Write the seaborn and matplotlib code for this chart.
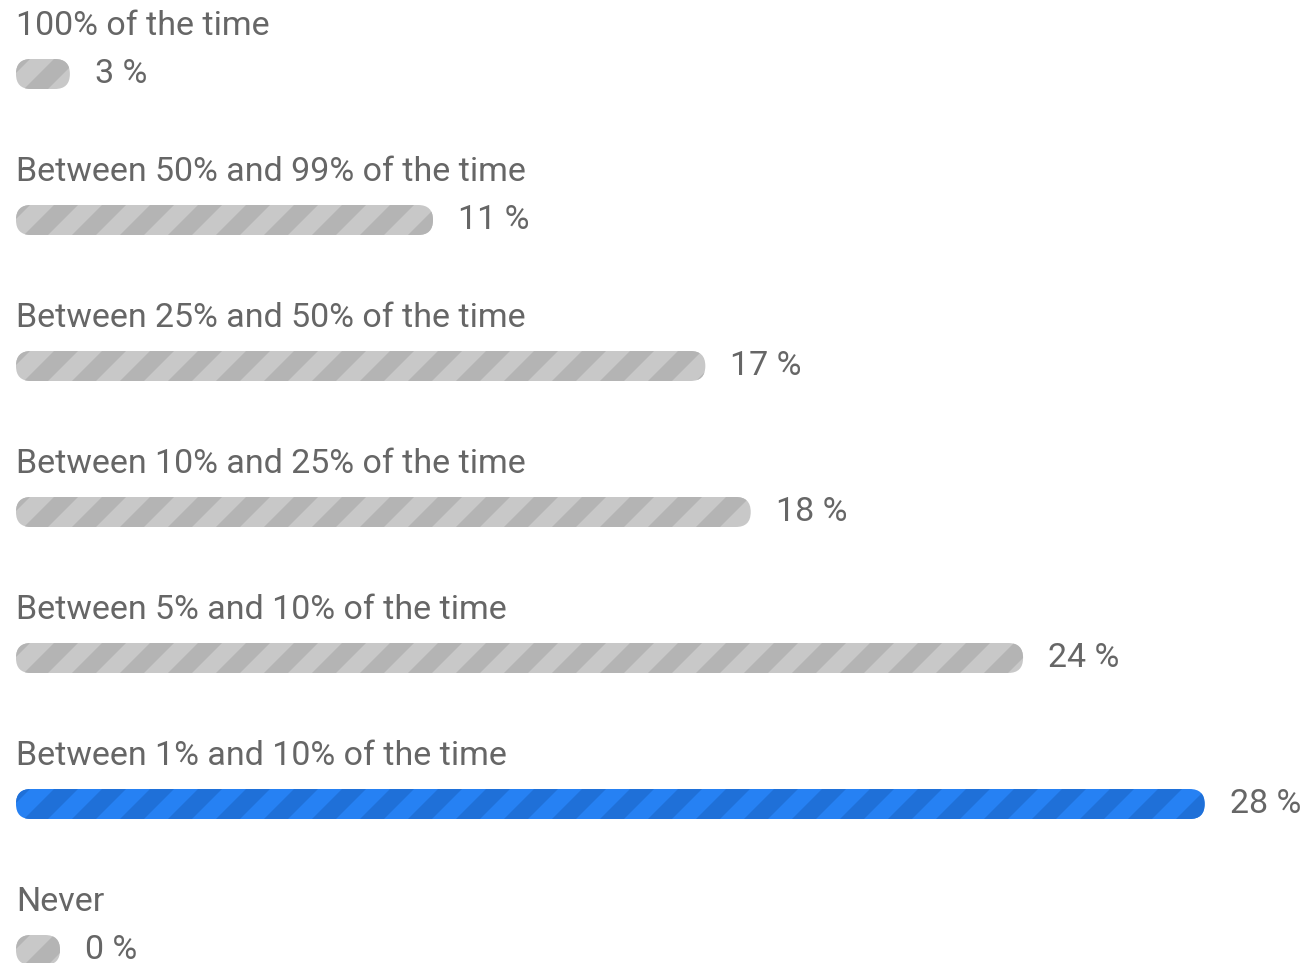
import matplotlib
matplotlib.use("Agg")
import matplotlib.pyplot as plt
from matplotlib.patches import FancyBboxPatch, Polygon
from matplotlib.transforms import IdentityTransform
import pandas as pd
import seaborn as sns

# survey answers, top to bottom
answers = [
    "100% of the time",
    "Between 50% and 99% of the time",
    "Between 25% and 50% of the time",
    "Between 10% and 25% of the time",
    "Between 5% and 10% of the time",
    "Between 1% and 10% of the time",
    "Never",
]
percent = [3, 11, 17, 18, 24, 28, 0]
value_labels = ["3 %", "11 %", "17 %", "18 %", "24 %", "28 %", "0 %"]
highlight = "Between 1% and 10% of the time"

df = pd.DataFrame({"answer": answers, "percent": percent})

W, H, DPI = 1312, 963, 100
PX_X = 45.39      # pixels per percent point
X_ORIGIN = -66.3  # pixel where 0 % would sit
ROW_PX = 146
TOP_PX = 74
BAR_PX = 30
LEFT_PX = 16

GREY, GREY_DARK = "#c8c8c8", "#b4b4b4"
BLUE, BLUE_DARK = "#2681f3", "#1f70d8"
TEXT = "#666666"

sns.set_theme(style="white")
plt.rcParams["font.family"] = ["Roboto", "DejaVu Sans"]

fig = plt.figure(figsize=(W / DPI, H / DPI), dpi=DPI)
ax = fig.add_axes([0, 0, 1, 1])

sns.barplot(data=df, y="answer", x="percent", orient="h",
            width=BAR_PX / ROW_PX, color=GREY, ax=ax)

ax.set_xlim(-X_ORIGIN / PX_X, (W - X_ORIGIN) / PX_X)
ax.set_ylim((H - TOP_PX) / ROW_PX, -TOP_PX / ROW_PX)
ax.axis("off")

x_left = (LEFT_PX - X_ORIGIN) / PX_X
min_len = 44 / PX_X
radius = (BAR_PX / 2 - 0.1) / PX_X
aspect = PX_X / ROW_PX

bars = list(ax.patches)
for p in bars:
    p.remove()

period, stripe = 48, 24
for p, name, lab in zip(bars, answers, value_labels):
    y, h, v = p.get_y(), p.get_height(), p.get_width()
    x_end = max(v, x_left + min_len)
    light, dark = (BLUE, BLUE_DARK) if name == highlight else (GREY, GREY_DARK)
    box = FancyBboxPatch((x_left, y), x_end - x_left, h,
                         boxstyle=f"round,pad=0,rounding_size={radius}",
                         mutation_aspect=aspect, facecolor=light,
                         edgecolor="none", zorder=2)
    ax.add_patch(box)

    # diagonal stripes, drawn in pixel space and clipped to the bar
    (x0p, ytp), (x1p, ybp) = ax.transData.transform([(x_left, y), (x_end, y + h)])
    yb, yt = min(ytp, ybp), max(ytp, ybp)
    hp = yt - yb
    xs = x0p - hp - 10
    while xs < x1p + 5:
        poly = Polygon([(xs, yb), (xs + stripe, yb), (xs + stripe + hp, yt), (xs + hp, yt)],
                       closed=True, facecolor=dark, edgecolor="none",
                       transform=IdentityTransform(), zorder=3)
        ax.add_artist(poly)
        poly.set_clip_path(box)
        xs += period

    row = y + h / 2
    ax.text(x_left, row - 48 / ROW_PX, name, ha="left", va="center",
            fontsize=24.5, color=TEXT)
    ax.text(x_end + 25 / PX_X, row, lab, ha="left", va="center",
            fontsize=24.5, color=TEXT)

fig.savefig("out.png", dpi=DPI)
